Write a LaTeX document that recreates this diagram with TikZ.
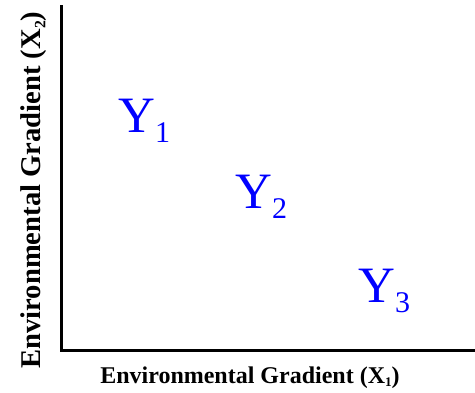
\documentclass[tikz,border=0pt]{standalone}
\usepackage{fontspec}
\setmainfont{Liberation Serif}
\usepackage{tikz}
\usetikzlibrary{positioning}

\definecolor{spblue}{RGB}{0,0,255}
\newcommand{\spsub}[2]{#1\raisebox{-0.2em}{\fontsize{30}{30}\selectfont #2}}
\newcommand{\axsub}[1]{\raisebox{-0.15em}{\fontsize{0.55em}{0.55em}\selectfont #1}}

\begin{document}
\begin{tikzpicture}[
            x=1pt, y=-1pt,
            axis/.style={draw=black, line width=3pt},
            species/.style={inner sep=0pt, anchor=base west, text=spblue, font=\fontsize{51}{51}\selectfont},
            axlabel/.style={inner sep=0pt, anchor=base, font=\bfseries}
        ]
            \useasboundingbox (0,0) rectangle (475,392);

            \coordinate (ytop) at (61,5);
            \coordinate (xend) at (475,350);
            \draw[axis] (ytop) |- (xend);

            \node[species] (y1) at (118,132) {\spsub{Y}{1}};
            \node[species] (y2) at (235,208) {\spsub{Y}{2}};
            \node[species] (y3) at (358,302) {\spsub{Y}{3}};

            \node[axlabel, font=\bfseries\fontsize{24}{24}\selectfont] (xlab) at (250,383) {Environmental Gradient (X\axsub{1})};
            \node[axlabel, rotate=90, font=\bfseries\fontsize{28.6}{28.6}\selectfont] (ylab) at (41,190) {Environmental Gradient (X\axsub{2})};
        \end{tikzpicture}
\end{document}
